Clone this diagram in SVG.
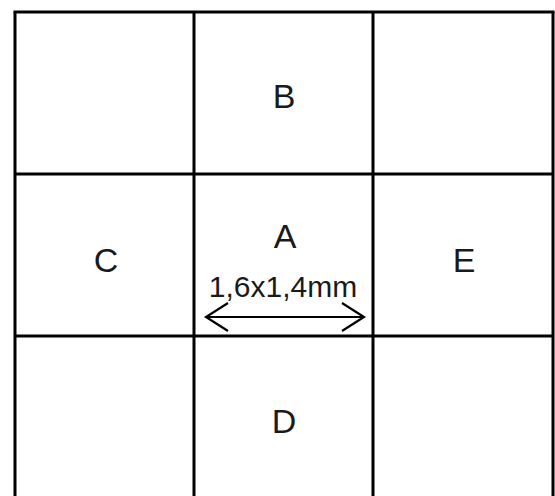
<svg xmlns="http://www.w3.org/2000/svg" width="555" height="496" viewBox="0 0 555 496">
<style>
.g{stroke:#000;stroke-width:3;fill:none}
.t{font-family:"Liberation Sans",Arial,sans-serif;font-size:34px;fill:#1a1a1a;text-anchor:middle}
.d{font-family:"Liberation Sans",Arial,sans-serif;font-size:30px;fill:#1a1a1a;text-anchor:middle}
.a{stroke:#000;stroke-width:2.2;fill:none}
</style>
<rect width="555" height="496" fill="#fff"/>
<g id="grid">
<line class="g" x1="15" y1="12" x2="15" y2="496"/>
<line class="g" x1="194" y1="12" x2="194" y2="496"/>
<line class="g" x1="373" y1="12" x2="373" y2="496"/>
<line class="g" x1="553" y1="12" x2="553" y2="496"/>
<line class="g" x1="13.5" y1="12" x2="554.5" y2="12"/>
<line class="g" x1="15" y1="174" x2="553" y2="174"/>
<line class="g" x1="15" y1="336" x2="553" y2="336"/>
</g>
<g id="B"><text class="t" x="284" y="108">B</text></g>
<g id="C"><text class="t" x="106" y="272">C</text></g>
<g id="A"><text class="t" x="285" y="248">A</text><text class="d" x="283" y="297">1,6x1,4mm</text></g>
<g id="E"><text class="t" x="464" y="272">E</text></g>
<g id="D"><text class="t" x="284" y="433">D</text></g>
<g id="connectors">
<line class="a" x1="206" y1="317" x2="364" y2="317"/>
<polyline class="a" points="228,303 206,317 228,331"/>
<polyline class="a" points="342,303 364,317 342,331"/>
</g>
</svg>
